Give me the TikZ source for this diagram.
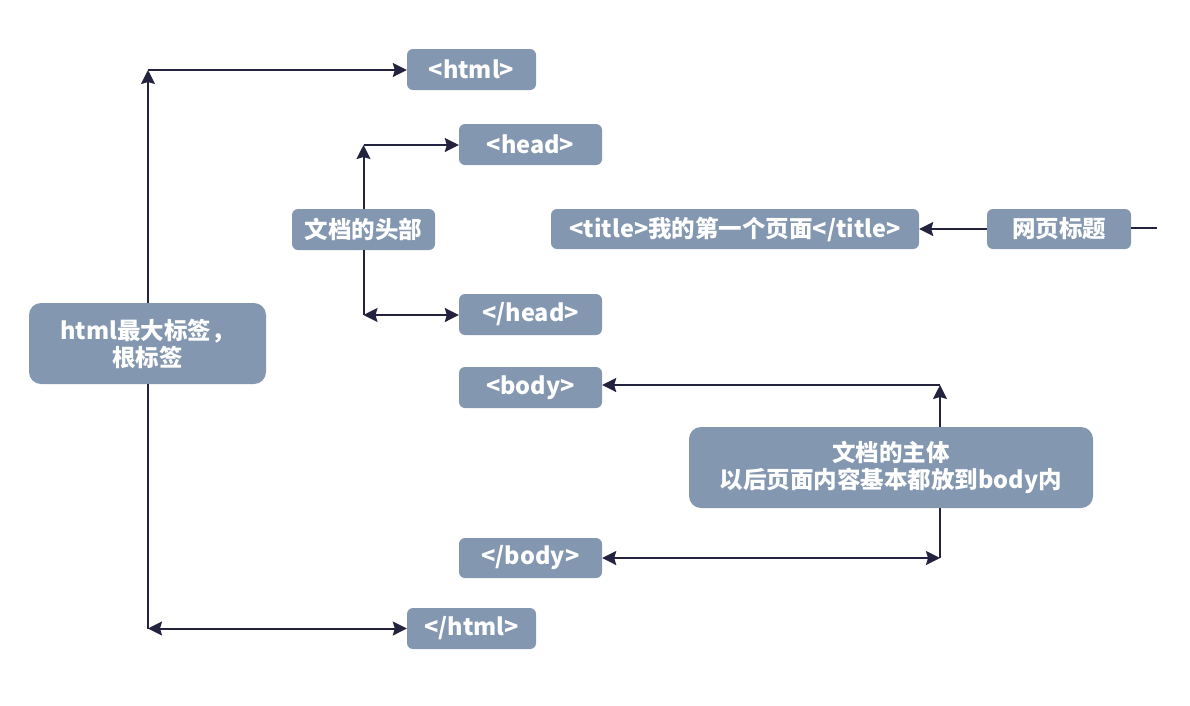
\documentclass[tikz,border=0pt]{standalone}
\usepackage{fontspec}
\setmainfont{Noto Sans CJK SC}
\usetikzlibrary{arrows.meta}
\definecolor{boxfill}{HTML}{8497B0}
\definecolor{linecol}{HTML}{23233F}
\tikzset{
  tagbox/.style={fill=boxfill, rounded corners=6pt, text=white, font=\fontsize{23.5}{27}\selectfont\bfseries, inner sep=0pt, align=center},
  bigbox/.style={tagbox, rounded corners=12pt},
  conn/.style={draw=linecol, line width=2pt},
  tip/.style={-{Stealth[length=14pt,width=14pt,inset=2pt]}},
  tips/.style={{Stealth[length=14pt,width=14pt,inset=2pt]}-{Stealth[length=14pt,width=14pt,inset=2pt]}}
}
\begin{document}
\begin{tikzpicture}[x=1pt,y=-1pt]
\useasboundingbox (0,0) rectangle (1190,705);
\node[tagbox, minimum width=129pt, minimum height=41pt] (html) at (471.5,69.5) {<html>};
\node[tagbox, minimum width=143pt, minimum height=41pt] (head) at (530.5,144.5) {<head>};
\node[tagbox, minimum width=143pt, minimum height=41pt] (docHead) at (363.5,229.5) {文档的头部};
\node[tagbox, minimum width=368pt, minimum height=40pt] (title) at (735,229) {<title>我的第一个页面</title>};
\node[tagbox, minimum width=144pt, minimum height=40pt] (pageTitle) at (1059,229) {网页标题};
\node[tagbox, minimum width=143pt, minimum height=41pt] (headEnd) at (530.5,314.5) {</head>};
\node[bigbox, minimum width=237pt, minimum height=81pt] (root) at (147.5,343.5) {html最大标签，\\根标签};
\node[tagbox, minimum width=143pt, minimum height=41pt] (body) at (530.5,387.5) {<body>};
\node[bigbox, minimum width=404pt, minimum height=81pt] (docBody) at (891,467.5) {文档的主体\\以后页面内容基本都放到body内};
\node[tagbox, minimum width=143pt, minimum height=40pt] (bodyEnd) at (530.5,558) {</body>};
\node[tagbox, minimum width=129pt, minimum height=41pt] (htmlEnd) at (471.5,628.5) {</html>};

\coordinate (c1) at (148,70);
\coordinate (c2) at (148,628.5);
\coordinate (c3) at (363.5,145);
\coordinate (c4) at (363.5,315);
\coordinate (c5) at (940,385);
\coordinate (c6) at (940,558);
\coordinate (free) at (1157,228);

\draw[conn,tip] (root.north -| c1) -- (c1);
\draw[conn,tip] (c1) -- (html.west |- c1);
\draw[conn] (root.south -| c2) -- (c2);
\draw[conn,tips] (c2) -- (htmlEnd.west |- c2);

\draw[conn,tip] (docHead.north -| c3) -- (c3);
\draw[conn,tip] (c3) -- (head.west |- c3);
\draw[conn] (docHead.south -| c4) -- (c4);
\draw[conn,tips] (c4) -- (headEnd.west |- c4);

\draw[conn,tip] (pageTitle.west) -- (title.east);
\draw[conn] (pageTitle.east |- free) -- (free);

\draw[conn,tip] (docBody.north -| c5) -- (c5);
\draw[conn,tip] (c5) -- (body.east |- c5);
\draw[conn] (docBody.south -| c6) -- (c6);
\draw[conn,tips] (c6) -- (bodyEnd.east |- c6);
\end{tikzpicture}
\end{document}
